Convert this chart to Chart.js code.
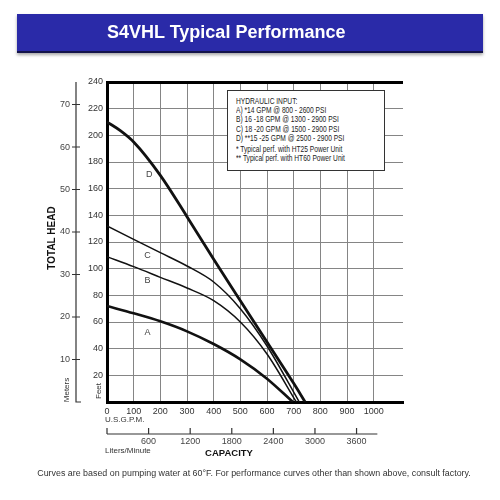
<!DOCTYPE html>
<html><head><meta charset="utf-8">
<script src="https://cdn.jsdelivr.net/npm/chart.js@4.4.1/dist/chart.umd.min.js"></script>
<style>
html,body{margin:0;padding:0;background:#fff;}
#wrap{position:relative;width:500px;height:500px;overflow:hidden;font-family:Arial,"Liberation Sans",sans-serif;}
#c{position:absolute;left:0;top:0;}
#banner{position:absolute;left:17px;top:14px;width:466px;height:37px;background:#2a2aa8;border-bottom:2px solid #14144a;box-shadow:0 2px 3px rgba(0,0,0,0.35);}
#title{position:absolute;left:90px;top:0;line-height:37px;color:#fff;font-weight:bold;font-size:18px;white-space:nowrap;}
#legend{position:absolute;left:227px;top:90px;width:158px;height:81px;border:1px solid #333;background:#fff;box-sizing:border-box;padding:5px 0 0 8px;font-size:9.5px;color:#222;line-height:9.2px;white-space:nowrap;overflow:hidden;}
#legend .in{transform:scaleX(0.7);transform-origin:0 0;}
#legend .gap{margin-top:1.5px;}
.lbl{position:absolute;white-space:nowrap;color:#333;}
.rot{transform:translate(-50%,-50%) rotate(-90deg);}
#footer{position:absolute;left:4px;top:468px;width:500px;text-align:center;font-size:8.9px;color:#333;white-space:nowrap;}
</style></head>
<body><div id="wrap">
<canvas id="c" width="500" height="500"></canvas>
<div id="banner"><div id="title">S4VHL Typical Performance</div></div>
<div id="legend"><div class="in">
<div>HYDRAULIC INPUT:</div>
<div>A) *14 GPM @ 800 - 2600 PSI</div>
<div>B) 16 -18 GPM @ 1300 - 2900 PSI</div>
<div>C) 18 -20 GPM @ 1500 - 2900 PSI</div>
<div>D) **15 -25 GPM @ 2500 - 2900 PSI</div>
<div class="gap">* Typical perf. with HT25 Power Unit</div>
<div>** Typical perf. with HT60 Power Unit</div>
</div></div>
<div class="lbl rot" style="left:51px;top:238px;font-weight:bold;font-size:10px;color:#111;">TOTAL HEAD</div>
<div class="lbl rot" style="left:66px;top:390px;font-size:8px;">Meters</div>
<div class="lbl rot" style="left:98px;top:391px;font-size:8px;">Feet</div>
<div class="lbl" style="left:105px;top:415px;font-size:8px;">U.S.G.P.M.</div>
<div class="lbl" style="left:105px;top:446px;font-size:8px;">Liters/Minute</div>
<div class="lbl" style="left:229px;top:452px;transform:translate(-50%,-50%);font-size:9.5px;font-weight:bold;color:#111;">CAPACITY</div>
<div id="footer">Curves are based on pumping water at 60°F. For performance curves other than shown above, consult factory.</div>
</div>
<script>
// ---- data ----
const gpmTicks = [0,100,200,300,400,500,600,700,800,900,1000];
const feetTicks = [20,40,60,80,100,120,140,160,180,200,220,240];
const meterTicks = [10,20,30,40,50,60,70];
const literTicks = [600,1200,1800,2400,3000,3600];
const seriesNames = ['A','B','C','D'];
const aGpm  = [0,100,200,300,400,500,600,697];
const aHead = [72,66.5,60.5,53,43.5,32,17.5,0];
const bGpm  = [0,100,200,300,400,500,600,710];
const bHead = [109,101.5,93.5,85.5,76,60,36,0];
const cGpm  = [0,100,200,300,400,500,600,721];
const cHead = [132,122,112,102,90,70,42,0];
const dGpm  = [0,50,100,200,300,400,500,600,700,743];
const dHead = [210,203.5,195,170,139,107,76,45,14,0];
const labelGpm  = [152,152,152,158];
const labelHead = [52,91,110,170.6];

const gpmMax = 1110, feetMax = 240, meterMax = 75.3, literMax = 4270;

function pts(xs, ys){ return xs.map((x,i)=>({x:x,y:ys[i]})); }
const widths = [2.6,1.5,1.5,2.8];
const datasets = [[aGpm,aHead],[bGpm,bHead],[cGpm,cHead],[dGpm,dHead]].map((s,i)=>({
  label: seriesNames[i], data: pts(s[0],s[1]), borderColor:'#111', borderWidth:widths[i],
  pointRadius:0, cubicInterpolationMode:'monotone', fill:false
}));

const extras = {
  id:'extras',
  afterDatasetsDraw(chart){
    const ctx = chart.ctx, xs = chart.scales.x, ys = chart.scales.y, m = chart.scales.m, L = chart.scales.L;
    ctx.save();
    ctx.fillStyle='#444'; ctx.font='9px Arial, "Liberation Sans", sans-serif';
    ctx.textAlign='center'; ctx.textBaseline='middle';
    seriesNames.forEach((n,i)=>ctx.fillText(n, xs.getPixelForValue(labelGpm[i]), ys.getPixelForValue(labelHead[i])));
    // meters axis
    const mx = 76;
    ctx.strokeStyle='#333'; ctx.lineWidth=1.2;
    ctx.beginPath();
    ctx.moveTo(mx, m.getPixelForValue(meterMax));
    ctx.lineTo(mx, m.getPixelForValue(0));
    ctx.lineTo(mx+5, m.getPixelForValue(0));
    meterTicks.forEach(v=>{ const y=m.getPixelForValue(v); ctx.moveTo(72,y); ctx.lineTo(80,y); });
    ctx.stroke();
    ctx.fillStyle='#444'; ctx.textAlign='right';
    meterTicks.forEach(v=>ctx.fillText(String(v), 70, m.getPixelForValue(v)));
    // liters axis
    const ly = 434;
    ctx.beginPath();
    ctx.moveTo(L.getPixelForValue(0), ly); ctx.lineTo(L.getPixelForValue(3900), ly);
    [0].concat(literTicks).forEach(v=>{ const x=L.getPixelForValue(v); ctx.moveTo(x,ly); ctx.lineTo(x,ly-6); });
    ctx.stroke();
    ctx.textAlign='center';
    literTicks.forEach(v=>ctx.fillText(String(v), L.getPixelForValue(v), 442));
    ctx.restore();
  }
};

new Chart(document.getElementById('c'), {
  type:'line',
  data:{datasets},
  plugins:[extras],
  options:{
    responsive:false, animation:false, events:[],
    layout:{padding:{left:0,top:82,right:97,bottom:0}},
    plugins:{legend:{display:false}, tooltip:{enabled:false}},
    scales:{
      x:{type:'linear', position:'bottom', min:0, max:gpmMax,
        afterBuildTicks:s=>{ s.ticks = gpmTicks.map(v=>({value:v})); },
        afterFit:s=>{ s.height = 98; },
        ticks:{color:'#333', font:{size:9, family:'Arial, "Liberation Sans", sans-serif'}, padding:4, maxRotation:0, autoSkip:false,
          callback:v=>String(v)},
        grid:{color:'#858585', lineWidth:1, drawTicks:false},
        border:{color:'#000', width:3}},
      y:{type:'linear', position:'left', min:0, max:feetMax,
        afterBuildTicks:s=>{ s.ticks = [0].concat(feetTicks).map(v=>({value:v})); },
        afterFit:s=>{ s.width = 107; },
        ticks:{color:'#333', font:{size:9, family:'Arial, "Liberation Sans", sans-serif'}, padding:4,
          callback:v=> v===0 ? '' : String(v)},
        grid:{color:c=> (c.tick && c.tick.value===240) ? '#000' : '#858585',
              lineWidth:c=> (c.tick && c.tick.value===240) ? 3 : 1, drawTicks:false},
        border:{color:'#000', width:3}},
      m:{type:'linear', position:'left', display:false, min:0, max:meterMax},
      L:{type:'linear', position:'bottom', display:false, min:0, max:literMax}
    }
  }
});
</script>
</body></html>
